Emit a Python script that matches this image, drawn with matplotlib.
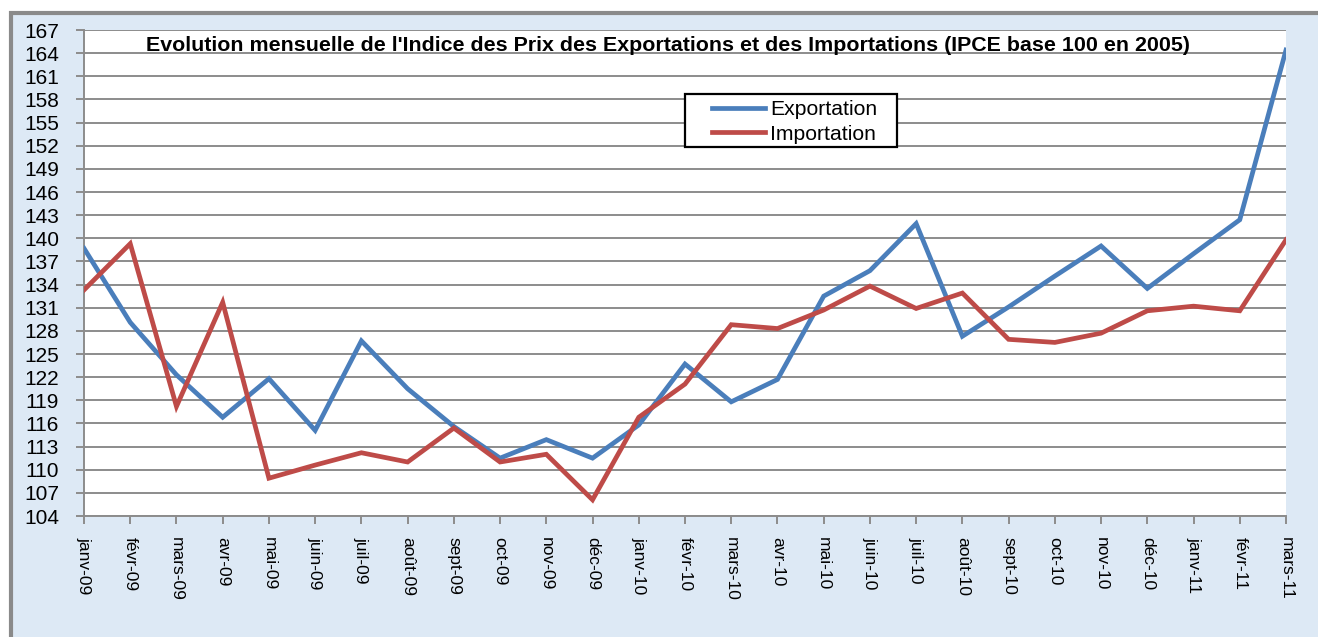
import matplotlib
matplotlib.use("Agg")
import matplotlib.pyplot as plt
from matplotlib.patches import Rectangle
from matplotlib import font_manager
from matplotlib.font_manager import FontProperties

plt.rcParams['font.family'] = ['Liberation Sans', 'DejaVu Sans']

# condensed font for rotated month labels if one is installed
narrow_fp = None
for f in font_manager.fontManager.ttflist:
    if f.name == 'Liberation Sans Narrow' and f.weight in (400, 'normal', 'regular') \
            and f.style == 'normal':
        narrow_fp = FontProperties(fname=f.fname)
        break

months = ["janv-09", "févr-09", "mars-09", "avr-09", "mai-09", "juin-09", "juil-09",
          "août-09", "sept-09", "oct-09", "nov-09", "déc-09", "janv-10", "févr-10",
          "mars-10", "avr-10", "mai-10", "juin-10", "juil-10", "août-10", "sept-10",
          "oct-10", "nov-10", "déc-10", "janv-11", "févr-11", "mars-11"]

exportation = [138.7, 129.1, 122.3, 116.8, 121.8, 115.1, 126.7, 120.5, 115.6, 111.5,
               113.9, 111.5, 115.8, 123.7, 118.8, 121.7, 132.5, 135.8, 141.9, 127.3,
               131.1, 135.1, 139.0, 133.5, 138.0, 142.4, 164.4]

importation = [133.3, 139.3, 118.2, 131.7, 108.9, 110.6, 112.2, 111.0, 115.4, 111.0,
               112.0, 106.1, 116.8, 121.1, 128.8, 128.3, 130.7, 133.8, 130.9, 132.9,
               126.9, 126.5, 127.7, 130.6, 131.2, 130.6, 139.8]

yticks = list(range(104, 168, 3))

title = "Evolution mensuelle de l'Indice des Prix des Exportations et des Importations (IPCE base 100 en 2005)"

W, H = 1318, 637
fig = plt.figure(figsize=(W / 100, H / 100), dpi=100)
fig.patch.set_facecolor('white')

# chart area background with gray border
bg = Rectangle((10.5 / W, -0.05), 1.1, (H - 12.5) / H + 0.05, transform=fig.transFigure,
               facecolor='#dde9f5', edgecolor='#8a8a8a', linewidth=3, zorder=-10)
fig.patches.append(bg)

L, R, T, B = 84, 1286, 30, 516
ax = fig.add_axes([L / W, 1 - B / H, (R - L) / W, (B - T) / H])
ax.set_zorder(1)
ax.set_facecolor('white')

x = list(range(len(months)))
ax.plot(x, exportation, color='#4a7ebb', linewidth=3.4, label='Exportation', zorder=3,
        solid_joinstyle='miter')
ax.plot(x, importation, color='#be4b48', linewidth=3.4, label='Importation', zorder=3,
        solid_joinstyle='miter')

ax.set_xlim(0, len(months) - 1)
ax.set_ylim(104, 167)
ax.set_yticks(yticks)
ax.set_yticklabels([str(v) for v in yticks], fontsize=15)
ax.set_xticks(x)
if narrow_fp is not None:
    narrow_fp.set_size(14.5)
    ax.set_xticklabels(months, rotation=270, ha='center', va='top', fontproperties=narrow_fp)
else:
    ax.set_xticklabels(months, rotation=270, fontsize=12.5, ha='center', va='top')

ax.grid(axis='y', color='#8c8c8c', linewidth=1.4)
ax.set_axisbelow(True)
for s in ['top', 'right']:
    ax.spines[s].set_visible(False)
for s in ['left', 'bottom']:
    ax.spines[s].set_color('#8c8c8c')
    ax.spines[s].set_linewidth(1.4)
ax.tick_params(axis='both', colors='#8c8c8c', length=6, width=1.4, labelcolor='black')
ax.tick_params(axis='y', pad=12)
ax.tick_params(axis='x', pad=9)

ax.text(0.486, 0.988, title, transform=ax.transAxes, ha='center', va='top',
        fontsize=15.4, fontweight='bold')

# legend box
lx0, lx1, ly0, ly1 = 685, 897, 94, 147
frame = Rectangle(((lx0 - L) / (R - L), (B - ly1) / (B - T)),
                  (lx1 - lx0) / (R - L), (ly1 - ly0) / (B - T),
                  transform=ax.transAxes, facecolor='white', edgecolor='black',
                  linewidth=1.6, zorder=5)
ax.add_patch(frame)
fs = 15.2
leg = ax.legend(loc='center left',
                bbox_to_anchor=((712 - L) / (R - L), (B - (ly0 + ly1) / 2 - 1.5) / (B - T)),
                borderaxespad=0, frameon=False, fontsize=fs, borderpad=0,
                handlelength=53 / (fs * 100 / 72), labelspacing=0.26, handletextpad=0.25)
leg.set_zorder(6)

fig.savefig('out.png', dpi=100, facecolor=fig.get_facecolor())
